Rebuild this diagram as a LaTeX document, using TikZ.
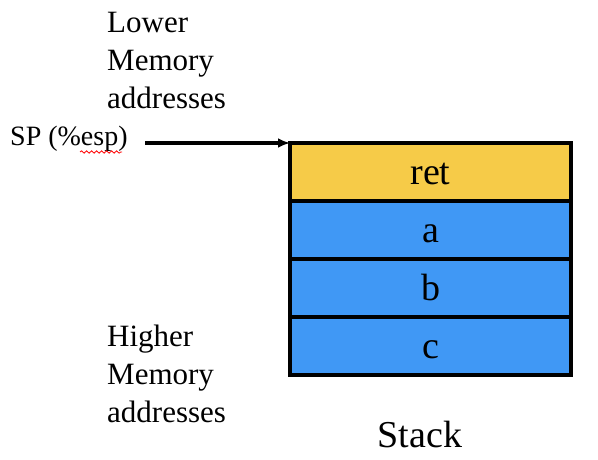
\documentclass[tikz,border=0pt]{standalone}
\usepackage{fontspec}
\setmainfont{Liberation Serif}
\usetikzlibrary{decorations.pathmorphing,arrows.meta}
\definecolor{retyellow}{RGB}{246,203,72}
\definecolor{stackblue}{RGB}{64,152,245}
\tikzset{
  cell/.style={draw=black, line width=3.2pt, minimum width=281pt, minimum height=58pt,
    inner sep=0pt, outer sep=0pt, text height=24pt, text depth=0pt,
    font=\fontsize{38}{44}\selectfont},
  memlabel/.style={align=left, inner sep=0pt, anchor=north west, font=\fontsize{31}{38}\selectfont},
}
\begin{document}
\begin{tikzpicture}[x=1pt, y=-1pt]
    \useasboundingbox (0,0) rectangle (598,460);
    % stack cells, top to bottom
    \node[cell, fill=retyellow] (ret) at (430.5,172) {ret};
    \node[cell, fill=stackblue] (a) at (430.5,230) {a};
    \node[cell, fill=stackblue] (b) at (430.5,288) {b};
    \node[cell, fill=stackblue] (c) at (430.5,346) {c};
    \node[font=\fontsize{38}{44}\selectfont, anchor=base] (stack) at (420,447) {Stack};
    % memory labels
    \node[memlabel] (lower) at (107,12) {Lower\\Memory\\addresses};
    \node[memlabel] (higher) at (107,325) {Higher\\Memory\\addresses};
    % stack pointer
    \node[font=\fontsize{28}{34}\selectfont, anchor=base west, inner sep=0pt] (sp) at (10,146) {SP (\%esp)};
    \draw[red, line width=0.8pt, decorate, decoration={snake, amplitude=1.2pt, segment length=5pt}]
        (80,152) -- (122,152);
    \coordinate (spstart) at (145,143);
    \draw[-{Latex[length=12pt,width=10pt]}, line width=3.6pt] (spstart) -- (ret.north west);
\end{tikzpicture}
\end{document}
